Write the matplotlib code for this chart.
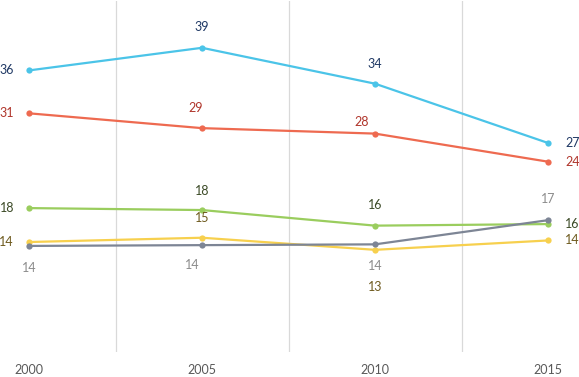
import matplotlib
matplotlib.use("Agg")
import matplotlib.pyplot as plt

years = [2000, 2005, 2010, 2015]

# values (labels are the rounded values)
blue = [36.1, 39.0, 34.4, 26.8]
red = [30.6, 28.7, 28.0, 24.4]
green = [18.45, 18.2, 16.2, 16.4]
yellow = [14.1, 14.65, 13.1, 14.3]
grey = [13.6, 13.7, 13.8, 16.9]

# (values, line colour, label colour, label offsets in pixels per point, ha)
series = [
    (blue, "#4BC4E8", "#1F3864",
     [(-15, 0, "right"), (0, 21, "center"), (0, 20, "center"), (17, 0, "left")]),
    (red, "#EE6A50", "#B0352B",
     [(-15, 0, "right"), (-6, 20, "center"), (-13, 12, "center"), (17, 0, "left")]),
    (green, "#9ACD5E", "#3B4A26",
     [(-15, 0, "right"), (0, 19, "center"), (0, 21, "center"), (17, 0, "left")]),
    (yellow, "#F7D04E", "#6E5A1E",
     [(-15, 0, "right"), (0, 20, "center"), (0, -37, "center"), (17, 0, "left")]),
    (grey, "#7D8595", "#8C8C8C",
     [(0, -22, "center"), (-10, -20, "center"), (0, -22, "center"), (0, 21, "center")]),
]

plt.rcParams["font.family"] = ["Lato", "DejaVu Sans"]

fig = plt.figure(figsize=(5.79, 3.77), dpi=100)
ax = fig.add_axes([0, 25 / 377, 1, 351 / 377])
ax.set_xlim(years[0] - 29 / 34.6, years[-1] + 31 / 34.6)
ax.set_ylim(0, 45)

# vertical gridlines between categories
for a, b in zip(years[:-1], years[1:]):
    ax.axvline((a + b) / 2, color="#D9D9D9", lw=0.9, zorder=0)

for vals, col, lcol, offs in series:
    ax.plot(years, vals, color=col, lw=1.6, marker="o", ms=4.5,
            markeredgewidth=0, zorder=2)
    for x, v, (dx, dy, ha) in zip(years, vals, offs):
        ax.annotate(f"{v:.0f}", (x, v), xytext=(dx, dy),
                    textcoords="offset pixels", ha=ha, va="center",
                    fontsize=9, color=lcol)

for s in ax.spines.values():
    s.set_visible(False)
ax.set_yticks([])
ax.set_xticks(years)
ax.set_xticklabels([str(y) for y in years])
ax.tick_params(axis="x", length=0, pad=9, labelsize=9, labelcolor="#595959")
ax.patch.set_alpha(0)

fig.savefig("out.png", dpi=100)
